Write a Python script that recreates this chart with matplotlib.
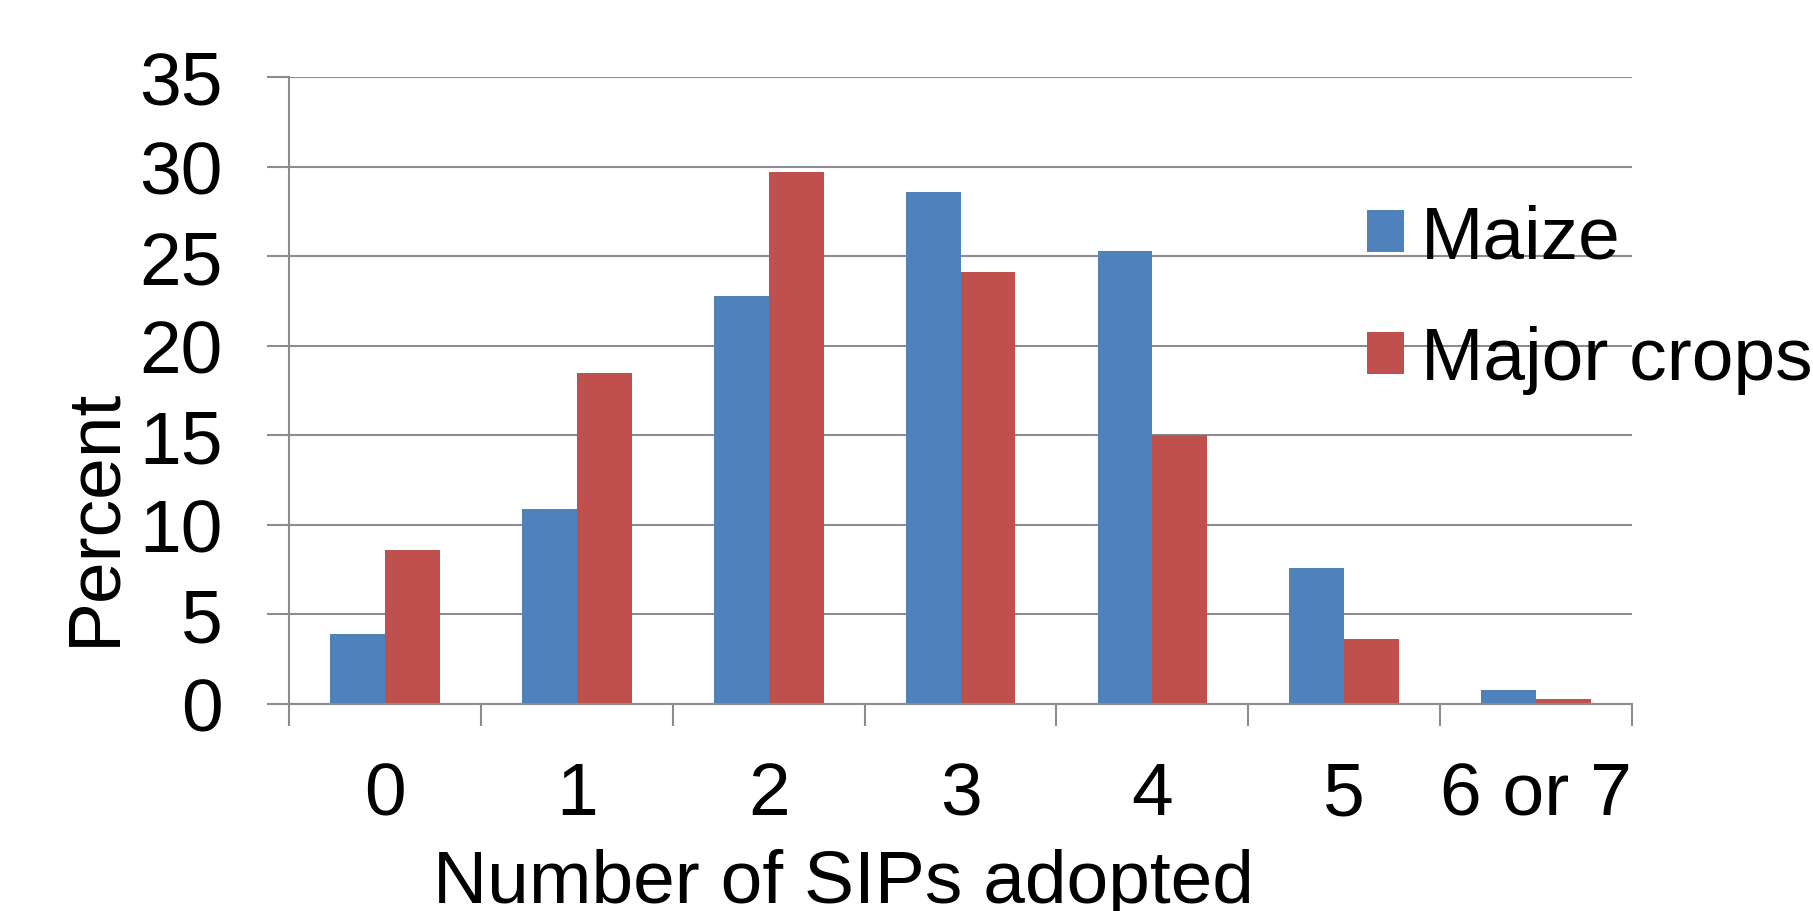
import matplotlib.pyplot as plt
import numpy as np
from matplotlib.ticker import FixedLocator

plt.rcParams["font.family"] = ["Liberation Sans", "DejaVu Sans"]

# Share of farms by number of SIPs adopted
categories = ["0", "1", "2", "3", "4", "5", "6 or 7"]
maize = [3.9, 10.9, 22.8, 28.6, 25.3, 7.6, 0.8]
major_crops = [8.6, 18.5, 29.7, 24.1, 15.0, 3.6, 0.3]

BLUE = "#4F81BD"
RED = "#C0504D"
GRID = "#8C8C8C"
FONT_SIZE = 54

fig = plt.figure(figsize=(18.13, 9.12), dpi=100)
ax = fig.add_axes([0.1594, 0.2270, 0.7408, 0.6875])

x = np.arange(len(categories))
width = 0.286
ax.bar(x - width / 2, maize, width, color=BLUE, label="Maize", zorder=2)
ax.bar(x + width / 2, major_crops, width, color=RED, label="Major crops", zorder=2)

ax.set_xlim(-0.5, len(categories) - 0.5)
ax.set_ylim(0, 35)
ax.set_yticks(np.arange(0, 36, 5))

ax.set_axisbelow(True)
ax.yaxis.grid(True, color=GRID, linewidth=1.5)

for side in ("top", "right"):
    ax.spines[side].set_visible(False)
for side in ("left", "bottom"):
    ax.spines[side].set_color(GRID)
    ax.spines[side].set_linewidth(1.5)

# category labels sit between the tick marks, which mark the group boundaries
ax.set_xticks(x)
ax.set_xticklabels(categories)
ax.xaxis.set_minor_locator(FixedLocator(np.arange(-0.5, len(categories), 1.0)))
ax.tick_params(axis="x", which="major", length=0, pad=40.5, labelsize=FONT_SIZE)
ax.tick_params(axis="x", which="minor", length=15.8, width=1.5, color=GRID)
ax.tick_params(axis="y", length=15.8, width=1.5, color=GRID, pad=32,
               labelsize=FONT_SIZE)

ax.set_xlabel("Number of SIPs adopted", fontsize=FONT_SIZE)
ax.xaxis.set_label_coords(0.4125, -0.230)
ax.set_ylabel("Percent", fontsize=FONT_SIZE)
ax.yaxis.set_label_coords(-0.119, 0.30)

ax.legend(
    loc="upper left",
    bbox_to_anchor=(1367 / 1813, 1 - 205 / 912),
    bbox_transform=fig.transFigure,
    frameon=False,
    fontsize=FONT_SIZE,
    handlelength=0.49,
    handleheight=0.49,
    handletextpad=0.23,
    labelspacing=0.70,
    borderpad=0,
    borderaxespad=0,
)

fig.savefig("out.png", dpi=100)
